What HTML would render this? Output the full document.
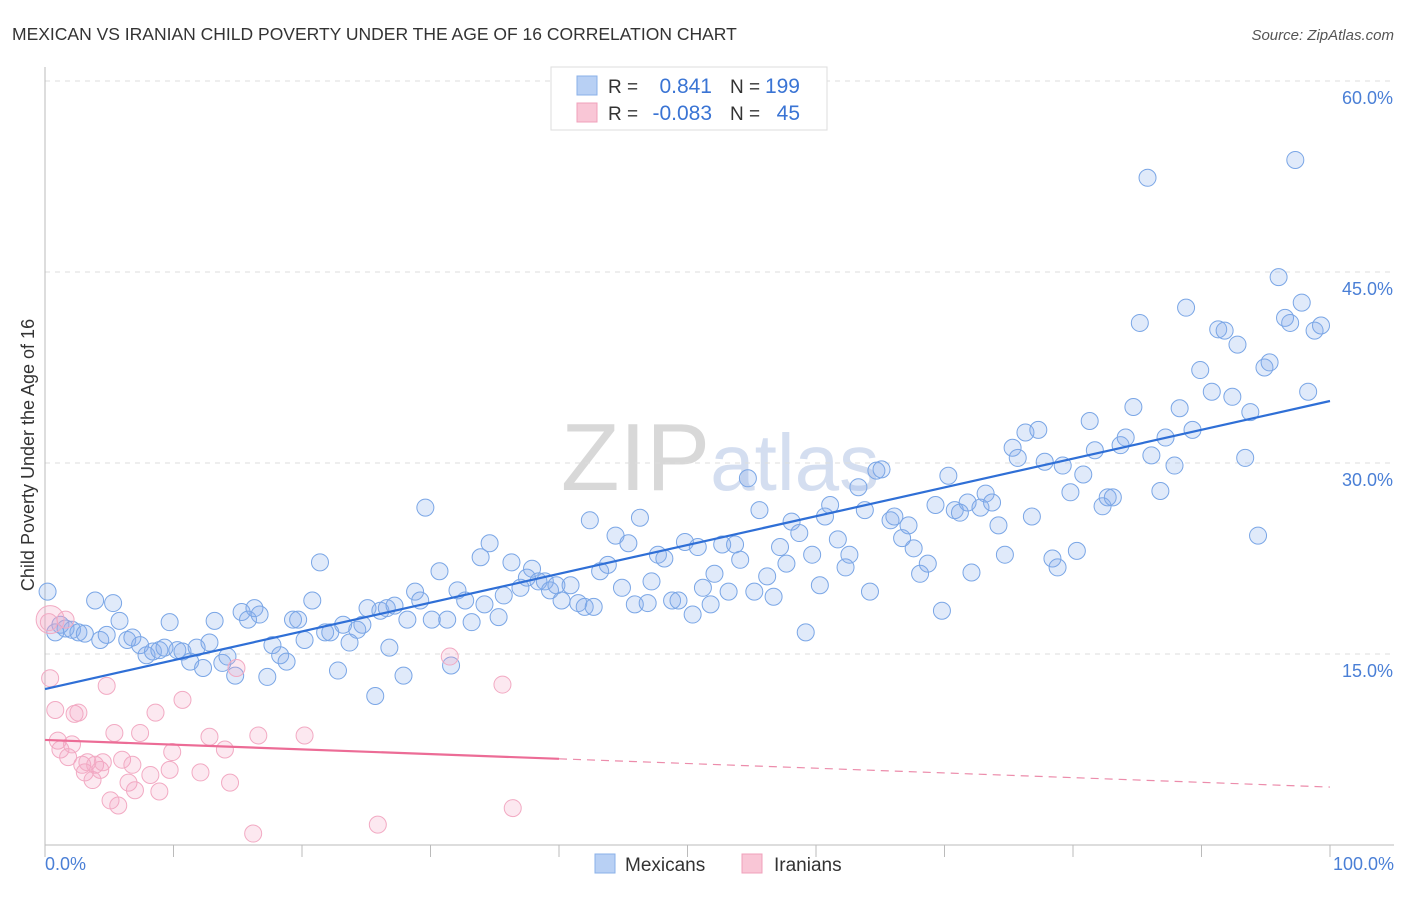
<!DOCTYPE html>
<html><head><meta charset="utf-8"><style>
body{margin:0;background:#fff;font-family:"Liberation Sans",sans-serif;}
svg text{font-family:"Liberation Sans",sans-serif;}
</style></head><body>
<svg id="chart" width="1406" height="892">
<text x="12" y="40" font-size="17.5" fill="#333">MEXICAN VS IRANIAN CHILD POVERTY UNDER THE AGE OF 16 CORRELATION CHART</text>
<text x="1394" y="40" font-size="15" fill="#555" font-style="italic" text-anchor="end">Source: ZipAtlas.com</text>
<text x="720" y="490" font-size="96" fill="#ddd" text-anchor="middle" font-family="Liberation Serif"><tspan fill="#d8d8d8">ZIP</tspan><tspan fill="#d4def0" font-family="Liberation Sans" font-size="80">atlas</tspan></text>
<g id="grid"></g>
<g id="axes"></g>
<g id="pts"></g>
<g id="lines"></g>
<text transform="translate(34,455) rotate(-90)" font-size="18" fill="#333" text-anchor="middle">Child Poverty Under the Age of 16</text>
<text x="45" y="870" font-size="18" fill="#4a7fd6">0.0%</text>
<text x="1394" y="870" font-size="18" fill="#4a7fd6" text-anchor="end">100.0%</text>
<g>
<rect x="551" y="67" width="276" height="63" fill="#fff" stroke="#ddd"/>
<rect x="577" y="76" width="20" height="19" fill="#b8d0f4" stroke="#8ab0e8"/>
<rect x="577" y="103" width="20" height="19" fill="#f9c6d6" stroke="#f0a0bb"/>
<text x="608" y="93" font-size="19" fill="#333">R =</text>
<text x="712" y="93" font-size="21" fill="#3a74d4" text-anchor="end">0.841</text>
<text x="730" y="93" font-size="19" fill="#333">N =</text>
<text x="800" y="93" font-size="21" fill="#3a74d4" text-anchor="end">199</text>
<text x="608" y="120" font-size="19" fill="#333">R =</text>
<text x="712" y="120" font-size="21" fill="#3a74d4" text-anchor="end">-0.083</text>
<text x="730" y="120" font-size="19" fill="#333">N =</text>
<text x="800" y="120" font-size="21" fill="#3a74d4" text-anchor="end">45</text>
</g>
<g>
<rect x="595" y="854" width="20" height="19" fill="#b8d0f4" stroke="#8ab0e8"/>
<text x="625" y="871" font-size="19" fill="#333">Mexicans</text>
<rect x="742" y="854" width="20" height="19" fill="#f9c6d6" stroke="#f0a0bb"/>
<text x="774" y="871" font-size="19" fill="#333">Iranians</text>
</g>
</svg>
<script>
const yTicks=[15,30,45,60];
const yTickLabels=["15.0%","30.0%","45.0%","60.0%"];
const xTicks=[0,10,20,30,40,50,60,70,80,90,100];
const mexX=[0.2,0.8,1.2,1.6,2.1,2.6,3.1,3.9,4.3,4.8,5.3,5.8,6.4,6.8,7.4,7.9,8.4,8.9,9.3,9.7,10.3,10.7,11.3,11.8,12.3,12.8,13.2,13.8,14.2,14.8,15.3,15.8,16.3,16.7,17.3,17.7,18.3,18.8,19.3,19.7,20.2,20.8,21.4,21.8,22.2,22.8,23.2,23.7,24.3,24.7,25.1,25.7,26.1,26.6,26.8,27.2,27.9,28.2,28.8,29.2,29.6,30.1,30.7,31.3,31.6,32.1,32.7,33.2,33.9,34.2,34.6,35.3,35.7,36.3,37.0,37.5,37.9,38.4,38.9,39.3,39.8,40.2,40.9,41.5,42.0,42.4,42.7,43.2,43.8,44.4,44.9,45.4,45.9,46.3,46.9,47.2,47.7,48.2,48.8,49.3,49.8,50.4,50.8,51.2,51.8,52.1,52.7,53.2,53.7,54.1,54.7,55.2,55.6,56.2,56.7,57.2,57.7,58.1,58.7,59.2,59.7,60.3,60.7,61.1,61.7,62.3,62.6,63.3,63.8,64.2,64.7,65.1,65.8,66.1,66.7,67.2,67.6,68.1,68.7,69.3,69.8,70.3,70.8,71.2,71.8,72.1,72.8,73.2,73.7,74.2,74.7,75.3,75.7,76.3,76.8,77.3,77.8,78.4,78.8,79.2,79.8,80.3,80.8,81.3,81.7,82.3,82.7,83.1,83.7,84.1,84.7,85.2,85.8,86.1,86.8,87.2,87.9,88.3,88.8,89.3,89.9,90.8,91.3,91.8,92.4,92.8,93.4,93.8,94.4,94.9,95.3,96.0,96.5,96.9,97.3,97.8,98.3,98.8,99.3];
const mexY=[19.9,16.7,17.3,17.0,16.9,16.7,16.6,19.2,16.1,16.5,19.0,17.6,16.1,16.3,15.7,14.9,15.2,15.3,15.5,17.5,15.3,15.2,14.4,15.5,13.9,15.9,17.6,14.3,14.8,13.3,18.3,17.7,18.6,18.1,13.2,15.7,14.9,14.4,17.7,17.7,16.1,19.2,22.2,16.7,16.7,13.7,17.3,15.9,16.9,17.3,18.6,11.7,18.4,18.6,15.5,18.8,13.3,17.7,19.9,19.2,26.5,17.7,21.5,17.7,14.1,20.0,19.2,17.5,22.6,18.9,23.7,17.9,19.6,22.2,20.2,21.0,21.7,20.7,20.7,20.0,20.4,19.2,20.4,19.0,18.7,25.5,18.7,21.5,22.0,24.3,20.2,23.7,18.9,25.7,19.0,20.7,22.8,22.5,19.2,19.2,23.8,18.1,23.4,20.2,18.9,21.3,23.6,19.9,23.6,22.4,28.8,19.9,26.3,21.1,19.5,23.4,22.1,25.4,24.5,16.7,22.8,20.4,25.8,26.7,24.0,21.8,22.8,28.1,26.3,19.9,29.4,29.5,25.5,25.8,24.1,25.1,23.3,21.3,22.1,26.7,18.4,29.0,26.3,26.1,26.9,21.4,26.5,27.6,26.9,25.1,22.8,31.2,30.4,32.4,25.8,32.6,30.1,22.5,21.8,29.8,27.7,23.1,29.1,33.3,31.0,26.6,27.3,27.3,31.4,32.0,34.4,41.0,52.4,30.6,27.8,32.0,29.8,34.3,42.2,32.6,37.3,35.6,40.5,40.4,35.2,39.3,30.4,34.0,24.3,37.5,37.9,44.6,41.4,41.0,53.8,42.6,35.6,40.4,40.8];
const iraX=[0.4,0.4,0.8,1.0,1.2,1.6,1.8,2.1,2.3,2.6,2.9,3.1,3.3,3.7,3.9,4.3,4.5,4.8,5.1,5.4,5.7,6.0,6.5,6.8,7.0,7.4,8.2,8.6,8.9,9.7,9.9,10.7,12.1,12.8,14.0,14.4,14.9,16.2,16.6,20.2,25.9,31.5,35.6,36.4,0.3];
const iraY=[17.7,13.1,10.6,8.2,7.5,17.7,6.9,7.9,10.3,10.4,6.3,5.7,6.5,5.1,6.3,5.9,6.5,12.5,3.5,8.8,3.1,6.7,4.9,6.3,4.3,8.8,5.5,10.4,4.2,5.9,7.3,11.4,5.7,8.5,7.5,4.9,13.9,0.9,8.6,8.6,1.6,14.8,12.6,2.9,17.5];
const mexTrend=[12.25,34.87];
const iraTrend=[8.25,4.55];
const iraSolidEnd=40;
const X0=45,X1=1330,Y0=845,PXPER=12.733;
function sx(v){return X0+(X1-X0)*v/100;}
function sy(v){return Y0-v*PXPER;}
const NS="http://www.w3.org/2000/svg";
function mk(tag,attrs,parent){const e=document.createElementNS(NS,tag);for(const k in attrs)e.setAttribute(k,attrs[k]);document.getElementById(parent).appendChild(e);return e;}
yTicks.forEach((t,i)=>{
 const g=mk('line',{x1:X0,x2:1394,y1:sy(t),y2:sy(t),stroke:'#ddd','stroke-dasharray':'5,5'},'grid');
 
 
 const l=mk('text',{x:1393,y:sy(t)+23,'font-size':18,fill:'#4a7fd6','text-anchor':'end'},'grid');
 l.textContent=yTickLabels[i];
 
 
});
const ya=mk('line',{x1:X0,x2:X0,y1:67,y2:Y0,stroke:'#bbb'},'axes');


const xa=mk('line',{x1:X0,x2:1394,y1:Y0,y2:Y0,stroke:'#bbb'},'axes');


xTicks.forEach(t=>{
 const k=mk('line',{x1:sx(t),x2:sx(t),y1:Y0,y2:Y0+12,stroke:'#bbb'},'axes');
 
 
});
mexX.forEach((x,i)=>{
 const c=mk('circle',{cx:sx(x),cy:sy(mexY[i]),r:8.5,fill:'rgba(130,170,235,0.25)',stroke:'#7aa6e6','stroke-width':1},'pts');
 
 
});
iraX.forEach((x,i)=>{
 const c=mk('circle',{cx:sx(x),cy:sy(iraY[i]),r:i===0?14:8.5,fill:'rgba(245,165,195,0.25)',stroke:'#f2aac3','stroke-width':1},'pts');
 
 
});
const ml=mk('line',{x1:sx(0),y1:sy(mexTrend[0]),x2:sx(100),y2:sy(mexTrend[1]),stroke:'#2f6fd6','stroke-width':2.2},'lines');


const iAt=v=>iraTrend[0]+(iraTrend[1]-iraTrend[0])*v/100;
const il=mk('line',{x1:sx(0),y1:sy(iraTrend[0]),x2:sx(iraSolidEnd),y2:sy(iAt(iraSolidEnd)),stroke:'#ec6c96','stroke-width':2.2},'lines');


const id=mk('line',{x1:sx(iraSolidEnd),y1:sy(iAt(iraSolidEnd)),x2:sx(100),y2:sy(iraTrend[1]),stroke:'#ec8cab','stroke-width':1.2,'stroke-dasharray':'8,6'},'lines');


</script>
</body></html>
